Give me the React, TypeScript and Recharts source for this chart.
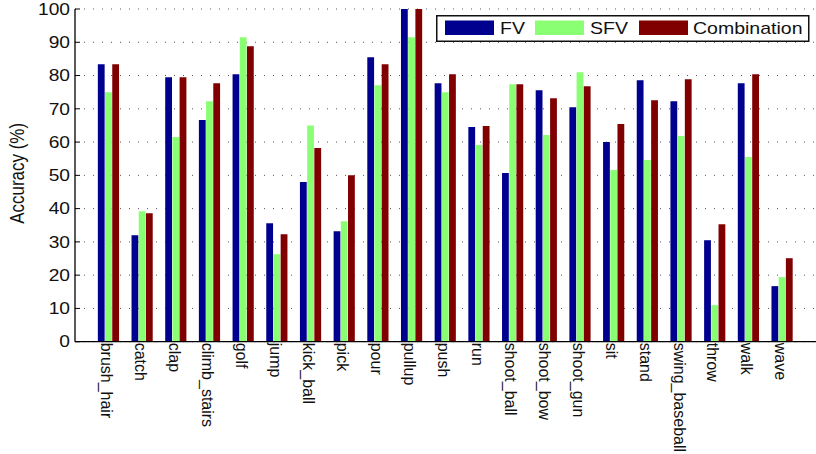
import React from 'react';
import { BarChart, Bar, XAxis, YAxis, CartesianGrid, Legend } from 'recharts';

const categories = ['brush_hair', 'catch', 'clap', 'climb_stairs', 'golf', 'jump', 'kick_ball', 'pick', 'pour', 'pullup', 'push', 'run', 'shoot_ball', 'shoot_bow', 'shoot_gun', 'sit', 'stand', 'swing_baseball', 'throw', 'walk', 'wave'];
const seriesNames = ['FV', 'SFV', 'Combination'];
const fvValues = [83.4, 32.0, 79.5, 66.6, 80.4, 35.6, 48.0, 33.2, 85.5, 100, 77.7, 64.5, 50.7, 75.6, 70.5, 60.0, 78.6, 72.3, 30.5, 77.7, 16.7];
const sfvValues = [75.0, 39.2, 61.5, 72.3, 91.5, 26.3, 65.0, 36.2, 77.1, 91.5, 75.0, 59.1, 77.4, 62.1, 81.0, 51.6, 54.6, 61.8, 11.0, 55.5, 19.4];
const combValues = [83.4, 38.6, 79.5, 77.7, 88.8, 32.3, 58.2, 50.0, 83.4, 100, 80.4, 64.8, 77.4, 73.2, 76.8, 65.4, 72.6, 78.9, 35.3, 80.4, 25.1];
const yTicks = [0, 10, 20, 30, 40, 50, 60, 70, 80, 90, 100];
const topTicks = [0, 2, 4, 6, 8, 10, 12, 14, 16, 18, 20, 22];

const data = categories.map((c, i) => ({ name: c, FV: fvValues[i], SFV: sfvValues[i], Combination: combValues[i] }));

const FONT = '"Liberation Sans", Arial, Helvetica, sans-serif';

const YTick = (props: any) => {
  const { x, y, payload } = props;
  return (
    <g transform={`translate(${x},${y + 5.7}) scale(1.2,1)`}>
      <text x={0} y={0} textAnchor="end" fontSize={16} fontFamily={FONT} fill="#111">{payload.value}</text>
    </g>
  );
};

const XTick = (props: any) => {
  const { x, y, payload } = props;
  return (
    <text transform={`translate(${x - 7.5},${y + 1}) scale(1.08,1) rotate(90)`} x={0} y={0} textAnchor="start" fontSize={16} fontFamily={FONT} fill="#111">{payload.value}</text>
  );
};

const EmptyTick = () => <g />;

const YLabel = (props: any) => {
  const vb = props.viewBox || { x: 0, y: 9, width: 75, height: 332.7 };
  return (
    <text transform={`translate(${vb.x + 24},${vb.y + vb.height / 2 - 2}) scale(1.15,1) rotate(-90)`} x={0} y={0} textAnchor="middle" fontSize={17} fontFamily={FONT} fill="#111">Accuracy (%)</text>
  );
};

const swatchX = [9, 99, 203];
const textX = [64, 154, 257];

const LegendBox = (props: any) => {
  const payload = [...(props.payload || [])].sort(
    (a: any, b: any) => seriesNames.indexOf(a.value) - seriesNames.indexOf(b.value)
  );
  return (
    <svg width={374} height={27} style={{ display: 'block' }}>
      <rect x={0.75} y={0.75} width={372} height={25.5} fill="#fff" stroke="#111" strokeWidth={1.5} />
      {payload.map((p: any, i: number) => (
        <g key={p.value}>
          <rect x={swatchX[i]} y={5.5} width={49} height={14.5} fill={p.color} />
          <g transform={`translate(${textX[i]},18.6) scale(1.22,1)`}>
            <text x={0} y={0} fontSize={16} fontFamily={FONT} fill="#111">{p.value}</text>
          </g>
        </g>
      ))}
    </svg>
  );
};

export default function App() {
  return (
    <div style={{ position: 'absolute', left: 0, top: 0, width: 816, height: 454, overflow: 'hidden', background: '#fff' }}>
      <BarChart width={816} height={454} data={data} margin={{ top: 9, right: 0, bottom: 0, left: 0 }} barSize={6.8} barGap={0.4}>
        <CartesianGrid vertical={false} stroke="#555" strokeDasharray="1 8" />
        <XAxis dataKey="name" xAxisId={0} height={112.3} interval={0} tickLine={false} tickSize={0} tickMargin={0} padding={{ left: 16.84, right: 16.84 }} axisLine={{ stroke: '#000', strokeWidth: 1.3 }} tick={<XTick />} />
        <XAxis xAxisId="top" orientation="top" type="number" domain={[0, 22]} allowDataOverflow ticks={topTicks} height={0} tickSize={-5} tick={<EmptyTick />} tickLine={{ stroke: '#000' }} axisLine={{ stroke: '#000', strokeWidth: 1.3 }} />
        <YAxis yAxisId={0} type="number" domain={[0, 100]} ticks={yTicks} width={75} tickSize={-5} tickMargin={10} tickLine={{ stroke: '#000' }} axisLine={{ stroke: '#000', strokeWidth: 1.3 }} tick={<YTick />} label={<YLabel />} />
        <YAxis yAxisId="right" orientation="right" type="number" domain={[0, 100]} allowDataOverflow ticks={yTicks} width={0} tickSize={-5} tick={<EmptyTick />} tickLine={{ stroke: '#000' }} axisLine={{ stroke: '#000', strokeWidth: 1.3 }} />
        <Legend layout="horizontal" align="center" verticalAlign="middle" content={<LegendBox />} wrapperStyle={{ position: 'absolute', left: 436, top: 15, width: 374, height: 27 }} />
        <Bar dataKey="FV" name="FV" fill="#00008F" isAnimationActive={false} />
        <Bar dataKey="SFV" name="SFV" fill="#8BFF73" isAnimationActive={false} />
        <Bar dataKey="Combination" name="Combination" fill="#800000" isAnimationActive={false} />
      </BarChart>
    </div>
  );
}
